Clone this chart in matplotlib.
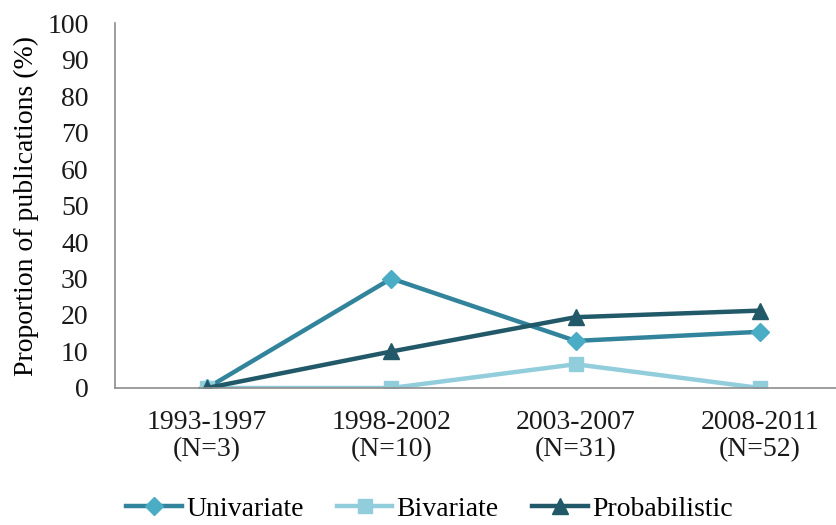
import matplotlib
matplotlib.use("Agg")
import matplotlib.pyplot as plt

# data
periods = ["1993-1997\n(N=3)", "1998-2002\n(N=10)", "2003-2007\n(N=31)", "2008-2011\n(N=52)"]
univariate = [0, 30, 12.9, 15.4]
bivariate = [0, 0, 6.5, 0]
probabilistic = [0, 10, 19.4, 21.2]

plt.rcParams['font.family'] = ['Liberation Serif', 'DejaVu Serif']

fig = plt.figure(figsize=(8.37, 5.25), dpi=100)
ax = fig.add_axes([0.1374, 0.261, 0.8805, 0.695])

x = range(len(periods))
ax.plot(x, univariate, color='#31849B', lw=3.2, marker='D', ms=9,
        mfc='#4BACC6', mec='#4BACC6', label='Univariate')
ax.plot(x, bivariate, color='#92CDDC', lw=3.2, marker='s', ms=10,
        mfc='#92CDDC', mec='#92CDDC', label='Bivariate')
ax.plot(x, probabilistic, color='#215968', lw=3.2, marker='^', ms=11,
        mfc='#215968', mec='#215968', label='Probabilistic')

ax.set_xlim(-0.5, 3.5)
ax.set_ylim(0, 100)
ax.set_yticks(range(0, 101, 10))
ax.set_xticks(list(x))
ax.set_xticklabels(periods, fontsize=20, linespacing=1.1)
ax.tick_params(axis='both', length=0, labelsize=20, colors='#1a1a1a')
ax.tick_params(axis='x', pad=16)
ax.tick_params(axis='y', pad=19)
ax.set_ylabel("Proportion of publications (%)", fontsize=20, labelpad=6)

for s in ['top', 'right']:
    ax.spines[s].set_visible(False)
for s in ['left', 'bottom']:
    ax.spines[s].set_color('#8c8c8c')
    ax.spines[s].set_linewidth(1.2)

fig.legend(loc='lower center', bbox_to_anchor=(0.513, -0.042), ncol=3,
           frameon=False, fontsize=20, handlelength=2.0, columnspacing=1.2,
           handletextpad=0.15)

fig.savefig("out.png", dpi=100)
